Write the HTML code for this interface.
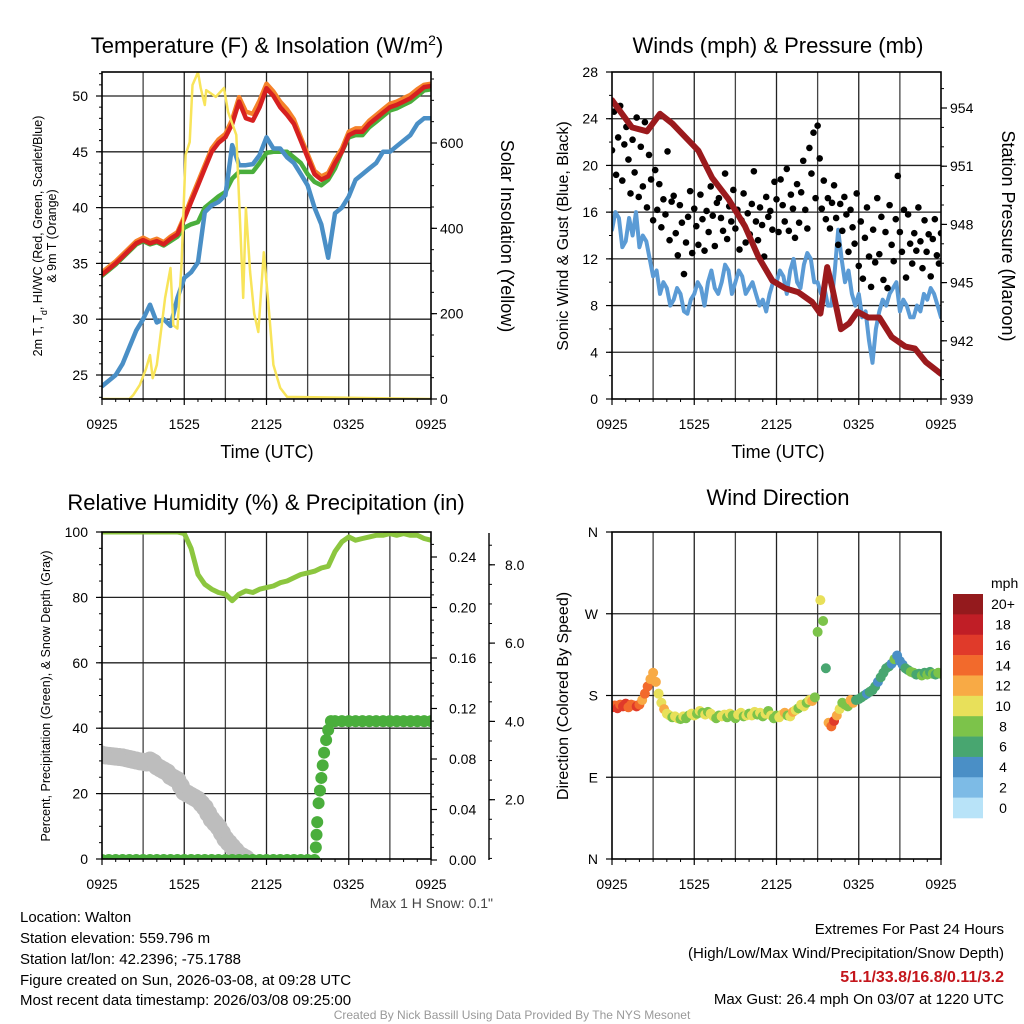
<!DOCTYPE html>
<html><head><meta charset="utf-8"><style>
html,body{margin:0;padding:0;background:#fff;}
svg{display:block;font-family:"Liberation Sans",Arial,sans-serif;}
</style></head><body>
<svg id="chart" width="1024" height="1024" viewBox="0 0 1024 1024" xmlns="http://www.w3.org/2000/svg">
<rect width="1024" height="1024" fill="#fff"/>
<text x="267" y="53" font-size="22" text-anchor="middle">Temperature (F) &amp; Insolation (W/m<tspan baseline-shift="super" font-size="14">2</tspan>)</text>
<text x="778" y="53" font-size="22" text-anchor="middle">Winds (mph) &amp; Pressure (mb)</text>
<text x="266" y="510" font-size="22" text-anchor="middle">Relative Humidity (%) &amp; Precipitation (in)</text>
<text x="778" y="505" font-size="22" text-anchor="middle">Wind Direction</text>
<text x="267" y="458" font-size="18" text-anchor="middle">Time (UTC)</text>
<text x="778" y="458" font-size="18" text-anchor="middle">Time (UTC)</text>
<text transform="translate(42,236) rotate(-90)" font-size="12.5" text-anchor="middle">2m T, T<tspan baseline-shift="sub" font-size="9">d</tspan>, HI/WC (Red, Green, Scarlet/Blue)</text>
<text transform="translate(56,236) rotate(-90)" font-size="12.5" text-anchor="middle">&amp; 9m T (Orange)</text>
<text transform="translate(501,236) rotate(90)" font-size="18" text-anchor="middle">Solar Insolation (Yellow)</text>
<text transform="translate(568,236) rotate(-90)" font-size="16" text-anchor="middle">Sonic Wind &amp; Gust (Blue, Black)</text>
<text transform="translate(1002,236) rotate(90)" font-size="18" text-anchor="middle">Station Pressure (Maroon)</text>
<text transform="translate(50,696) rotate(-90)" font-size="12.5" text-anchor="middle">Percent, Precipitation (Green), &amp; Snow Depth (Gray)</text>
<text transform="translate(568,696) rotate(-90)" font-size="16" text-anchor="middle">Direction (Colored By Speed)</text>
<text x="493" y="908" font-size="14" fill="#444" text-anchor="end">Max 1 H Snow: 0.1"</text>
<g font-size="15">
<text x="20" y="922">Location: Walton</text>
<text x="20" y="943">Station elevation: 559.796 m</text>
<text x="20" y="964">Station lat/lon: 42.2396; -75.1788</text>
<text x="20" y="985">Figure created on Sun, 2026-03-08, at 09:28 UTC</text>
<text x="20" y="1005">Most recent data timestamp: 2026/03/08 09:25:00</text>
</g>
<g font-size="15" text-anchor="end">
<text x="1004" y="934">Extremes For Past 24 Hours</text>
<text x="1004" y="958">(High/Low/Max Wind/Precipitation/Snow Depth)</text>
<text x="1004" y="982" font-weight="bold" font-size="16" fill="#c4161c">51.1/33.8/16.8/0.11/3.2</text>
<text x="1004" y="1004">Max Gust: 26.4 mph On 03/07 at 1220 UTC</text>
</g>
<text x="512" y="1019" font-size="12" fill="#999" text-anchor="middle">Created By Nick Bassill Using Data Provided By The NYS Mesonet</text>
<text x="991" y="588" font-size="14">mph</text>
</svg>
<script>
// ---------- DATA ----------
const xTickLabels = ["0925","1525","2125","0325","0925"];
const tempYTicks = [25,30,35,40,45,50];
const solarYTicks = [0,200,400,600];
const windYTicks = [0,4,8,12,16,20,24,28];
const presYTicks = [939,942,945,948,951,954];
const rhYTicks = [0,20,40,60,80,100];
const precipYTicks = [0.00,0.04,0.08,0.12,0.16,0.20,0.24];
const snowYTicks = [2.0,4.0,6.0,8.0];
const dirTickLabels = ["N","E","S","W","N"];
const dirTickValues = [0,90,180,270,360];
const speedBinLabels = ["0","2","4","6","8","10","12","14","16","18","20+"];
const speedBinColors = ["#b8e3f8","#7dbbe6","#4a8fc6","#48a670","#7cc34a","#e8e05a","#f8aa45","#f26a2c","#e03a2a","#c01e26","#941a1d"];

const tempRed = [34,34.5,35,35.6,36.2,36.8,37.1,36.8,37.0,36.7,37.2,37.6,39.0,40.5,42.0,43.5,45.0,45.8,46.3,47.5,49.5,48.0,47.8,49.0,50.7,50.0,49.0,48.3,47.5,46.0,44.5,43.0,42.5,42.8,44.0,45.0,46.5,46.8,46.8,47.5,48.0,48.5,49.0,49.2,49.5,49.8,50.3,50.8,50.9];
const tempOrange = [34.2,34.7,35.2,35.8,36.4,37.0,37.3,37.0,37.2,36.9,37.4,37.8,39.2,40.8,42.3,43.8,45.3,46.1,46.6,47.9,49.9,48.6,48.4,49.6,51.1,50.4,49.5,48.8,47.9,46.3,44.8,43.3,42.8,43.1,44.3,45.3,46.8,47.1,47.1,47.8,48.3,48.8,49.3,49.5,49.8,50.1,50.6,51.0,51.1];
const tempGreen = [33.9,34.4,34.9,35.5,36.1,36.7,37.0,36.7,36.9,36.6,37.0,37.4,38.2,38.5,38.7,40.0,40.5,41.0,41.4,42.6,43.2,43.2,43.2,44.0,44.9,45.0,45.0,45.0,44.5,44.0,43.0,42.3,42.0,42.5,43.5,45.0,46.3,46.5,46.5,47.2,47.7,48.2,48.7,48.9,49.2,49.5,50.0,50.5,50.6];
const dewBlue = [24,24.5,25,26,27.5,29,30,31.3,29.7,30,29.4,31.9,33.7,34.2,35.1,39.6,40.2,40.5,41.1,45.6,43.8,43.8,43.9,44.7,46.3,45.3,45.3,44.5,44.0,43.0,42.0,40.0,38.5,35.5,39.5,40.0,41.0,42.5,43.0,43.5,44.0,45.0,45.0,45.5,46.0,46.5,47.5,48.0,48.0];
const solarTimes = [0,2.0,2.3,2.76,3.2,3.5,3.7,4.0,4.3,4.6,5.0,5.2,5.5,5.8,6.1,6.4,6.6,7.0,7.2,7.5,7.6,8.3,8.9,9.2,9.8,10.1,10.3,10.5,10.8,11.1,11.4,11.8,12.1,12.5,13.0,13.5,24];
const solarVals = [0,0,10,33,70,103,49,80,157,237,307,173,165,314,572,602,736,766,729,689,724,708,729,673,619,391,237,448,298,200,157,344,237,80,26,5,0];

const windBlue = [14.5,16,15.5,13,13.5,15.5,14,16,13,14,13.5,12,10.5,11,9,10,9.5,8,8.5,9.5,9,7.5,7.3,8.5,9,10,9.5,8,10,11,9.5,9,10,11.5,11,9,10,11,10.5,9,9.5,10,9,8,8.5,7.5,9,10,10,11,10.5,9,11,12,10,9.5,11.5,12.5,12,10,10,9,9.5,8,8,11,14.5,12,10,11,9,8,9,7,7.5,5,3.1,6,7.5,8.5,8,9,9.5,10,7.5,8.5,8,7,7,8,7.5,9,8.5,9.5,9,8,7];
const gusts = [21.3,24.6,19.2,22.4,25.1,18.7,21.8,23.3,20.5,17.6,22.2,19.4,24.1,17.3,21.6,18.2,23.7,16.4,20.9,18.8,15.3,19.6,16.2,18.4,14.7,17.1,15.8,21.2,13.6,16.9,17.4,14.2,12.3,16.6,15.1,10.7,13.4,15.6,17.8,12.5,16.3,14.8,13.2,17.5,15.4,12.7,16.1,14.3,18.2,15.7,13.1,16.8,17.2,15.5,14.4,19.3,13.7,16.5,15.2,17.9,14.6,16.2,12.8,15.3,17.6,13.4,15.9,14.1,16.7,19.5,15.2,13.6,16.4,14.9,12.2,17.3,15.6,16.1,14.5,18.6,17.1,14.3,18.8,16.6,15.2,19.7,14.4,17.5,16.3,13.8,18.4,15.1,17.7,20.4,16.2,14.6,21.5,19.3,22.8,17.2,23.4,20.6,16.3,18.7,15.4,17.2,14.6,16.8,18.3,15.5,13.2,16.7,14.4,17.3,15.8,12.6,16.2,14.7,13.3,17.6,11.4,15.2,10.3,13.8,16.4,12.2,9.6,14.5,11.7,17.2,12.4,15.6,10.2,14.3,9.5,16.6,13.2,11.8,15.4,19.1,14.3,12.6,16.2,10.4,15.8,13.3,11.6,14.2,12.7,16.4,13.5,11.2,15.3,12.6,14.1,10.5,13.7,15.4,12.3,11.6,14.2];
const presTimes = [0,1.46,2.55,3.5,4.4,5.35,6.3,7.3,8.5,9.7,10.7,11.7,12.65,13.6,14.6,15.2,15.7,16.05,16.7,17.3,17.9,18.7,19.5,20.4,21.4,22.1,22.9,23.8,24];
const presVals = [954.4,953.0,952.8,953.7,953.2,952.5,951.8,950.4,949.3,947.9,946.3,945.1,944.7,944.5,944.0,943.4,945.8,944.8,942.6,942.9,943.5,943.2,943.2,942.2,941.7,941.6,940.9,940.4,940.3];

const rhVals = [100,100,100,100,100,100,100,100,100,100,100,100,99.5,95,87,84,82.5,81.5,81,79,81,82,81.5,82.5,83,83.5,84.5,85,86,87,87.5,88,89,89.5,94,97,98.5,97.5,98,98.5,99,99,99.5,99,99.5,99,99,98,97.5];
const snowVals = [3.15,3.13,3.12,3.11,3.1,3.09,3.08,3.06,3.04,3.02,3.0,2.98,2.97,2.95,3.0,2.95,2.85,2.8,2.75,2.7,2.6,2.55,2.5,2.35,2.2,2.15,2.1,2.05,2.0,1.9,1.8,1.65,1.5,1.4,1.3,1.15,1.0,0.9,0.8,0.7,0.6,0.55,0.5];
const precipTimes = [0,0.5,1,1.5,2,2.5,3,3.5,4,4.5,5,5.5,6,6.5,7,7.5,8,8.5,9,9.5,10,10.5,11,11.5,12,12.5,13,13.5,14,14.5,15,15.5,15.6,15.65,15.7,15.8,15.9,16.0,16.1,16.2,16.35,16.5,16.7,17,17.5,18,18.5,19,19.5,20,20.5,21,21.5,22,22.5,23,23.5,24];
const precipVals = [0,0,0,0,0,0,0,0,0,0,0,0,0,0,0,0,0,0,0,0,0,0,0,0,0,0,0,0,0,0,0,0,0.01,0.02,0.03,0.045,0.055,0.065,0.075,0.085,0.095,0.103,0.11,0.11,0.11,0.11,0.11,0.11,0.11,0.11,0.11,0.11,0.11,0.11,0.11,0.11,0.11,0.11];

const dirVals = [167,169,166,170,168,171,167,170,169,168,170,175,182,190,198,205,195,182,172,165,160,158,156,157,155,154,157,155,158,160,158,160,163,161,159,162,160,157,155,158,157,159,156,160,158,155,159,161,157,158,160,158,162,159,161,157,160,163,158,155,158,156,159,161,158,157,162,164,166,170,168,172,175,174,178,250,285,262,210,150,146,152,158,165,172,170,168,175,172,175,176,178,180,182,184,186,190,195,200,205,210,212,215,220,224,218,214,210,208,206,205,203,204,202,205,203,206,204,203,205,204];
const dirSpeed = [16,15,17,15,16,16,15,14,15,16,14,13,15,14,13,12,13,11,10,12,11,10,9,10,11,9,10,8,9,11,10,9,11,8,10,9,10,11,9,8,10,11,9,10,8,9,11,10,9,10,9,10,11,8,10,9,10,9,11,8,9,11,10,12,9,10,13,11,9,10,10,9,11,12,9,8,10,9,7,13,14,16,12,10,9,8,9,13,12,7,6,7,6,5,6,7,6,5,6,7,7,6,5,8,4,5,4,6,7,8,8,7,6,8,7,8,7,8,6,8,8];

// ---------- DRAWING ----------
const NS = "http://www.w3.org/2000/svg";
const svg = document.getElementById('chart');
function mk(tag, attrs, parent){
  const e = document.createElementNS(NS, tag);
  for (const k in attrs) e.setAttribute(k, attrs[k]);
  (parent || svg).appendChild(e);
  return e;
}
function lin(d0,d1,r0,r1){ return v => r0 + (v-d0)/(d1-d0)*(r1-r0); }
function pathD(xs, ys){ return xs.map((x,i)=>(i?'L':'M')+x.toFixed(1)+','+ys[i].toFixed(1)).join(''); }

const P1 = {x0:102,x1:431,y0:72,y1:399};
const P2 = {x0:612,x1:941,y0:72,y1:399};
const P3 = {x0:102,x1:431,y0:532,y1:859};
const P4 = {x0:612,x1:941,y0:532,y1:859};

function frame(P, name, hVals, yFn){
  const g = mk('g', {});
  
  
  const tx = lin(0,24,P.x0,P.x1);
  for (let h=3; h<24; h+=3){
    const gl = mk('line', {x1:tx(h),x2:tx(h),y1:P.y0,y2:P.y1,stroke:(h%6? '#444':'#222'),'stroke-width':1.3}, g);
    
    
  }
  hVals.forEach(v=>{
    const y = yFn(v);
    if (y>P.y0+1 && y<P.y1-1){
      const hl = mk('line', {x1:P.x0,x2:P.x1,y1:y,y2:y,stroke:'#222','stroke-width':1.3}, g);
      
      
    }
  });
  return tx;
}
function border(P, name){
  const b = mk('rect', {x:P.x0,y:P.y0,width:P.x1-P.x0,height:P.y1-P.y0,fill:'none',stroke:'#000','stroke-width':1.6});
  
  
}
function xAxis(P, name, ty){
  const tx = lin(0,24,P.x0,P.x1);
  xTickLabels.forEach((lab,i)=>{
    const x = tx(i*6);
    const t = mk('text', {x:x,y:ty,'font-size':14,'text-anchor':'middle'});
    t.textContent = lab;
    
    
    mk('line', {x1:x,x2:x,y1:P.y1,y2:P.y1+6,stroke:'#000','stroke-width':1.2});
  });
  for (let h=1; h<24; h++){
    if (h%6) mk('line', {x1:tx(h),x2:tx(h),y1:P.y1,y2:P.y1+3,stroke:'#000','stroke-width':1});
  }
}
function yAxis(P, name, ticks, yFn, side, labelX, fmt, minorStep){
  ticks.forEach(v=>{
    const y = yFn(v);
    const x = side==='left'? P.x0 : P.x1;
    const d = side==='left'? -6 : 6;
    mk('line', {x1:x,x2:x+d,y1:y,y2:y,stroke:'#000','stroke-width':1.2});
    const t = mk('text', {x:labelX,y:y+5,'font-size':14,'text-anchor':side==='left'?'end':'start'});
    t.textContent = fmt ? fmt(v) : v;
    
    
  });
  if (minorStep){
    const lo = ticks[0], hi = ticks[ticks.length-1];
    for (let v=lo-minorStep*3; v<=hi+minorStep*3; v+=minorStep){
      const y = yFn(v);
      if (y<P.y0||y>P.y1) continue;
      const x = side==='left'? P.x0 : P.x1;
      mk('line', {x1:x,x2:x+(side==='left'?-3:3),y1:y,y2:y,stroke:'#000','stroke-width':1});
    }
  }
}
function drawLine(xs, ys, color, w, name){
  const p = mk('path', {d:pathD(xs,ys),fill:'none',stroke:color,'stroke-width':w,'stroke-linejoin':'round','stroke-linecap':'round'});
  
  
  return p;
}
function clip(P, id){
  const cp = mk('clipPath', {id:id});
  mk('rect', {x:P.x0,y:P.y0,width:P.x1-P.x0,height:P.y1-P.y0}, cp);
}
clip(P1,'c1'); clip(P2,'c2'); clip(P3,'c3'); clip(P4,'c4');
function drawIn(g, xs, ys, color, w, name){ const p = drawLine(xs,ys,color,w,name); g.appendChild(p); return p; }

// ---- Panel 1 ----
const tY = lin(25,50,375,96);
const sY = lin(0,600,399,143);
const tx1 = frame(P1,'temp',tempYTicks,tY);
const half = tempRed.map((_,i)=>i*0.5);
const g1 = mk('g', {'clip-path':'url(#c1)'});


drawIn(g1, half.map(tx1), tempGreen.map(tY), '#4aae3c', 4.5, 'heat-index-line');
drawIn(g1, half.map(tx1), dewBlue.map(tY), '#4a8fc6', 4.5, 'dewpoint-line');
drawIn(g1, half.map(tx1), tempOrange.map(tY), '#f5822a', 4.5, 'temp-9m-line');
drawIn(g1, half.map(tx1), tempRed.map(tY), '#d62020', 4.5, 'temp-2m-line');
drawIn(g1, solarTimes.map(tx1), solarVals.map(sY), '#f8e45a', 2.5, 'solar-line');
border(P1,'temp');
xAxis(P1,'temp',429);
yAxis(P1,'temp-y',tempYTicks,tY,'left',88,null,1);
yAxis(P1,'solar-y',solarYTicks,sY,'right',440,null,50);

// ---- Panel 2 ----
const wY = lin(0,28,399,72);
const pY = lin(939,954,399,108);
const tx2 = frame(P2,'wind',windYTicks,wY);
const g2 = mk('g', {'clip-path':'url(#c2)'});


drawIn(g2, windBlue.map((_,i)=>tx2(i*0.25)), windBlue.map(wY), '#5b9bd5', 4, 'sonic-wind-line');
gusts.forEach((v,i)=>{
  const c = mk('circle', {cx:tx2(i*0.15),cy:wY(v),r:3.3,fill:'#000'}, g2);
  
  
});
drawIn(g2, presTimes.map(tx2), presVals.map(pY), '#9b1a1d', 6, 'pressure-line');
border(P2,'wind');
xAxis(P2,'wind',429);
yAxis(P2,'wind-y',windYTicks,wY,'left',598,null,2);
yAxis(P2,'pressure-y',presYTicks,pY,'right',950,null,1);

// ---- Panel 3 ----
const rY = lin(0,100,859,532);
const prY = lin(0,0.04,860,809.5);
const snY = lin(0,2,878,799.7);
const tx3 = frame(P3,'rh',rhYTicks,rY);
const g3 = mk('g', {'clip-path':'url(#c3)'});


snowVals.forEach((v,i)=>{
  const c = mk('circle', {cx:tx3(i*0.25),cy:snY(v),r:9,fill:'#bdbdbd'}, g3);
  
  
});
precipTimes.forEach((t,i)=>{
  const c = mk('circle', {cx:tx3(t),cy:prY(precipVals[i]),r:6,fill:'#4aae3c'}, g3);
  
  
});
drawIn(g3, rhVals.map((_,i)=>tx3(i*0.5)), rhVals.map(rY), '#8cc63f', 5, 'rh-line');
border(P3,'rh');
xAxis(P3,'rh',889);
yAxis(P3,'rh-y',rhYTicks,rY,'left',88,null,5);
yAxis(P3,'precip-y',precipYTicks,prY,'right',449,v=>v.toFixed(2),0.01);
const snAxis = mk('line', {x1:489,x2:489,y1:533,y2:860,stroke:'#000','stroke-width':1.4});


snowYTicks.forEach(v=>{
  const y = snY(v);
  mk('line', {x1:489,x2:495,y1:y,y2:y,stroke:'#000','stroke-width':1.2});
  const t = mk('text', {x:505,y:y+5,'font-size':14});
  t.textContent = v.toFixed(1);
  
  
});
for (let v=0.5; v<8.8; v+=0.5){
  const y = snY(v); if (y<533) continue;
  mk('line', {x1:489,x2:492,y1:y,y2:y,stroke:'#000','stroke-width':1});
}

// ---- Panel 4 ----
const dY = lin(0,360,859,532);
const tx4 = frame(P4,'dir',dirTickValues,dY);
const g4 = mk('g', {'clip-path':'url(#c4)'});


dirVals.forEach((v,i)=>{
  const bin = Math.max(0, Math.min(10, Math.floor(dirSpeed[i]/2)));
  const c = mk('circle', {cx:tx4(i*0.2),cy:dY(v),r:5,fill:speedBinColors[bin]}, g4);
  
  
});
border(P4,'dir');
xAxis(P4,'dir',889);
dirTickValues.forEach((v,i)=>{
  const y = dY(v);
  mk('line', {x1:P4.x0,x2:P4.x0-6,y1:y,y2:y,stroke:'#000','stroke-width':1.2});
  const t = mk('text', {x:598,y:y+5,'font-size':14,'text-anchor':'end'});
  t.textContent = dirTickLabels[i];
  
  
});
const cbTop = 594, cbH = 224/11;
speedBinColors.forEach((col,i)=>{
  const k = 10 - i;
  const y = cbTop + i*cbH;
  const r = mk('rect', {x:953,y:y,width:30,height:cbH+0.3,fill:speedBinColors[k]});
  
  
  const t = mk('text', {x:1003,y:y+cbH/2+5,'font-size':14,'text-anchor':'middle'});
  t.textContent = speedBinLabels[k];
  
  
});
</script>
</body></html>
